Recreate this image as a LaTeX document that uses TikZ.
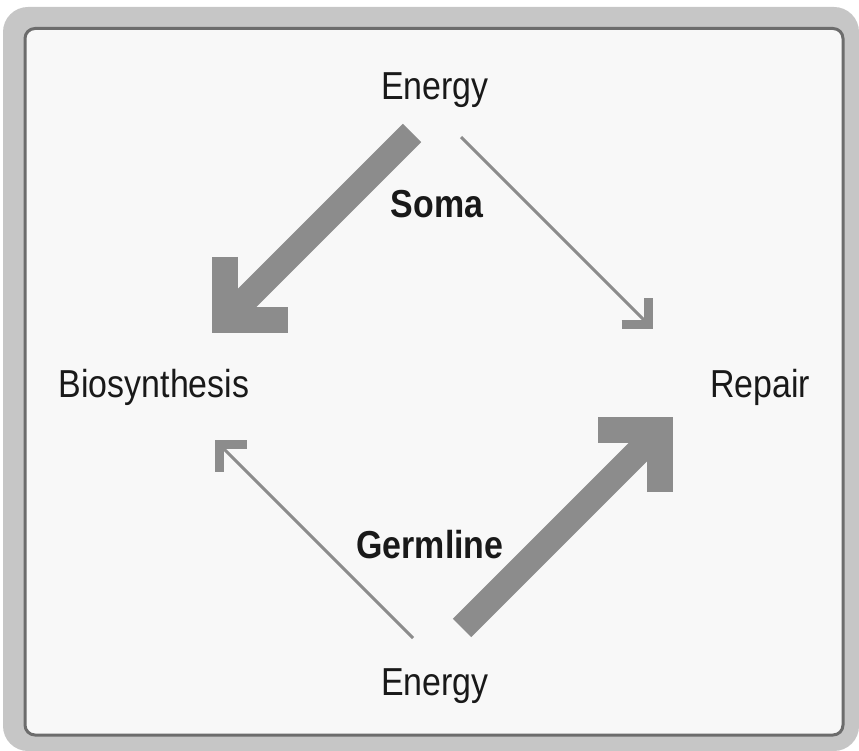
\documentclass[tikz,border=0pt]{standalone}
\usepackage{fontspec}
\setmainfont{Liberation Sans}[FakeStretch=0.87]
\usetikzlibrary{calc}

\definecolor{framegray}{RGB}{198,198,198}
\definecolor{edgegray}{RGB}{108,108,108}
\definecolor{panelgray}{RGB}{248,248,248}
\definecolor{arrowgray}{RGB}{140,140,140}

\begin{document}
\begin{tikzpicture}[x=1pt,y=-1pt,
    word/.style={font=\fontsize{39}{47}\selectfont,text=black!90,anchor=base,inner sep=0pt},
    wordbf/.style={word,font=\fontsize{39}{47}\selectfont\bfseries},
    shaft/.style={draw=arrowgray,line cap=butt},
    barb/.style={draw=arrowgray,line cap=butt,line join=miter,
        to path={($(\tikztotarget)!#1!45:(\tikztostart)$) -- (\tikztotarget) -- ($(\tikztotarget)!#1!-45:(\tikztostart)$)}}
]
\useasboundingbox (0,0) rectangle (859,751);

% === Frame ===
\fill[framegray,rounded corners=25] (3,7) rectangle (859,751);
\draw[edgegray,line width=3,fill=panelgray,rounded corners=10] (25,28.5) rectangle (843,735);

% === Labels ===
\node[word] (energyTop) at (435,100) {Energy};
\node[wordbf] (soma) at (437,218) {Soma};
\node[word] (bio) at (154,397) {Biosynthesis};
\node[word] (repair) at (760,397) {Repair};
\node[wordbf] (germ) at (430,558) {Germline};
\node[word] (energyBot) at (435,695) {Energy};

% === Soma: energy mostly to biosynthesis ===
\coordinate (somaFrom) at (412,133);
\coordinate (somaTo) at (225,320);
\draw[shaft,line width=26] (somaFrom) -- (somaTo);
\draw[barb=63pt,line width=26] (somaFrom) to (somaTo);

\coordinate (fixFrom) at (461,137);
\coordinate (fixTo) at (648.5,324.5);
\draw[shaft,line width=3] (fixFrom) -- (fixTo);
\draw[barb=27pt,line width=9] (fixFrom) to (fixTo);

% === Germline: energy mostly to repair ===
\coordinate (germFrom) at (462,628);
\coordinate (germTo) at (660,430);
\draw[shaft,line width=26] (germFrom) -- (germTo);
\draw[barb=62pt,line width=26] (germFrom) to (germTo);

\coordinate (buildFrom) at (413,638);
\coordinate (buildTo) at (219.5,444.5);
\draw[shaft,line width=3] (buildFrom) -- (buildTo);
\draw[barb=27pt,line width=9] (buildFrom) to (buildTo);

\end{tikzpicture}
\end{document}
